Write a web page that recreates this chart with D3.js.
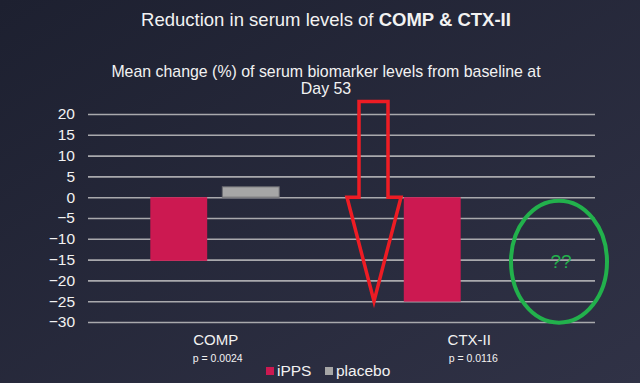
<!DOCTYPE html>
<html>
<head>
<meta charset="utf-8">
<script src="https://cdn.jsdelivr.net/npm/d3@7"></script>
<style>
  body { margin: 0; background: #262837; }
  svg { display: block; }
  text { font-family: 'Liberation Sans Narrow', 'Liberation Sans', Arial, sans-serif; fill: #f2f2f2; }
</style>
</head>
<body>
<svg id="container"></svg>
<script>
const categories = ['COMP', 'CTX-II']
const seriesNames = ['iPPS', 'placebo']
const ippsValues = [-15.3, -25.1]
const placeboValues = [2.5, null]
const pValues = ['p = 0.0024', 'p = 0.0116']
const yTicks = [20, 15, 10, 5, 0, -5, -10, -15, -20, -25, -30]

const colors = { iPPS: '#cc1951', placebo: '#a6a6a6' }

const width = 640, height = 383
const margin = { top: 114, right: 45, bottom: 61, left: 88 }

const svg = d3.select('#container').attr('width', width).attr('height', height)

// background gradient
const defs = svg.append('defs')
const grad = defs.append('linearGradient').attr('id', 'bg')
  .attr('x1', '0%').attr('y1', '0%').attr('x2', '100%').attr('y2', '100%')
grad.append('stop').attr('offset', '0%').attr('stop-color', '#1d2030')
grad.append('stop').attr('offset', '100%').attr('stop-color', '#303246')
svg.append('rect').attr('width', width).attr('height', height).attr('fill', 'url(#bg)')

const x = d3.scaleBand().domain(categories).range([margin.left, width - margin.right])
const x1 = d3.scaleBand().domain(seriesNames).range([0, x.bandwidth()]).paddingInner(0.21).paddingOuter(0.865)
const y = d3.scaleLinear().domain([-30, 20]).range([height - margin.bottom, margin.top])

// titles
svg.append('text').attr('x', 326).attr('y', 26).attr('text-anchor', 'middle')
  .style('font-size', '18.5px')
  .call((t) => {
    t.append('tspan').text('Reduction in serum levels of ')
    t.append('tspan').attr('font-weight', 'bold').text('COMP & CTX-II')
  })
svg.append('text').attr('x', 326).attr('y', 77).attr('text-anchor', 'middle')
  .style('font-size', '15.9px').text('Mean change (%) of serum biomarker levels from baseline at')
svg.append('text').attr('x', 326).attr('y', 93.5).attr('text-anchor', 'middle')
  .style('font-size', '15.9px').text('Day 53')

// grid + y axis
const gY = svg.append('g')
  .attr('transform', `translate(${margin.left},0)`)
  .call(d3.axisLeft(y).tickValues(yTicks).tickSize(-(width - margin.left - margin.right)).tickPadding(13))
gY.select('.domain').remove()
gY.selectAll('.tick line').attr('stroke', '#a9a9ad').attr('stroke-width', 1.6)
gY.selectAll('.tick text').style('font-size', '15.5px').attr('fill', '#f2f2f2')

// bars
const data = categories.map((c, i) => ({ cat: c, values: [
  { key: 'iPPS', v: ippsValues[i] }, { key: 'placebo', v: placeboValues[i] }] }))

const groups = svg.append('g').selectAll('g').data(data).enter().append('g')
  .attr('transform', (d) => `translate(${x(d.cat)},0)`)
groups.selectAll('rect').data((d) => d.values.filter((e) => e.v !== null)).enter().append('rect')
  .attr('x', (d) => x1(d.key))
  .attr('width', x1.bandwidth())
  .attr('y', (d) => y(Math.max(0, d.v)))
  .attr('height', (d) => Math.abs(y(d.v) - y(0)))
  .attr('fill', (d) => colors[d.key])
  .attr('stroke', (d) => d.key === 'placebo' ? '#6b6b70' : 'none')
  .attr('stroke-width', 1)

// category labels
const gX = svg.append('g')
gX.selectAll('.cat').data(categories).enter().append('text')
  .attr('x', (d) => x(d) + x.bandwidth() / 2 + 1)
  .attr('y', 345).attr('text-anchor', 'middle')
  .style('font-size', '15px').text((d) => d)
gX.selectAll('.pv').data(pValues).enter().append('text')
  .attr('x', (d, i) => x(categories[i]) + x.bandwidth() / 2 + (i ? 5 : 3))
  .attr('y', 362).attr('text-anchor', 'middle')
  .style('font-size', '10.5px').text((d) => d)

// legend
const legend = svg.append('g').attr('transform', 'translate(266,367)')
const items = [{ key: 'iPPS', dx: 0 }, { key: 'placebo', dx: 59 }]
items.forEach((it) => {
  legend.append('rect').attr('x', it.dx).attr('y', 0).attr('width', 8).attr('height', 8).attr('fill', colors[it.key])
  legend.append('text').attr('x', it.dx + 11).attr('y', 9).style('font-size', '15.5px').text(it.key)
})

// annotations: red arrow + green ellipse
const ax = x('CTX-II') + 32.5
const arrow = [
  [ax - 15, y(23)], [ax + 14, y(23)], [ax + 14, y(0)], [ax + 27, y(0)],
  [ax, y(-25)], [ax - 27, y(0)], [ax - 15, y(0)]
]
svg.append('path').attr('d', d3.line()(arrow) + 'Z')
  .attr('fill', 'none').attr('stroke', '#ee1c24').attr('stroke-width', 3.5).attr('stroke-linejoin', 'miter')

svg.append('ellipse').attr('cx', 559).attr('cy', y(-15.5)).attr('rx', 48).attr('ry', 61)
  .attr('fill', 'none').attr('stroke', '#22b14c').attr('stroke-width', 4)
svg.append('text').attr('x', 561).attr('y', y(-15.5) + 6).attr('text-anchor', 'middle')
  .style('font-size', '19px').style('fill', '#22b14c').text('??')
</script>
</body>
</html>
